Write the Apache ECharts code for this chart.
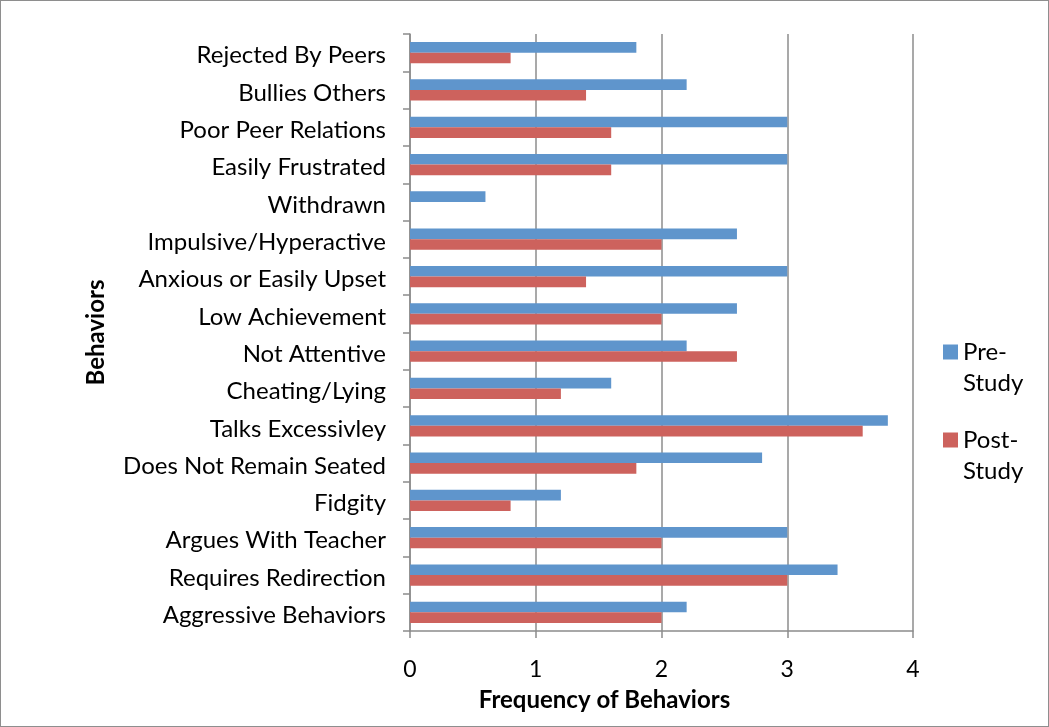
<!DOCTYPE html>
<html>
<head>
<meta charset="utf-8">
<script src="https://cdn.jsdelivr.net/npm/echarts@6/dist/echarts.min.js"></script>
<style>
  html, body { margin: 0; padding: 0; background: #fff; }
  #chart { width: 1047px; height: 725px; border: 1px solid #8e8e8e; }
</style>
</head>
<body>
<div id="chart"></div>
<script>
// Behaviors, listed top to bottom
const categories = [
  'Rejected By Peers', 'Bullies Others', 'Poor Peer Relations', 'Easily Frustrated',
  'Withdrawn', 'Impulsive/Hyperactive', 'Anxious or Easily Upset', 'Low Achievement',
  'Not Attentive', 'Cheating/Lying', 'Talks Excessivley', 'Does Not Remain Seated',
  'Fidgity', 'Argues With Teacher', 'Requires Redirection', 'Aggressive Behaviors'
];
const preStudy  = [1.8, 2.2, 3.0, 3.0, 0.6, 2.6, 3.0, 2.6, 2.2, 1.6, 3.8, 2.8, 1.2, 3.0, 3.4, 2.2];
const postStudy = [0.8, 1.4, 1.6, 1.6, 0.0, 2.0, 1.4, 2.0, 2.6, 1.2, 3.6, 1.8, 0.8, 2.0, 3.0, 2.0];
const seriesNames = ['Pre-Study', 'Post-Study'];
const xTicks = { min: 0, max: 4, interval: 1 };

const FONT = 'Lato, "Open Sans", sans-serif';
const GRID_COLOR = '#8c8c8c';
const LEGEND_LINE = 31;

const chart = echarts.init(document.getElementById('chart'));
chart.setOption({
  animation: false,
  textStyle: { fontFamily: FONT },
  grid: { left: 409, right: 135, top: 33, bottom: 95, containLabel: false },
  legend: {
    orient: 'vertical',
    left: 942,
    top: 308,
    padding: 0,
    itemWidth: 15,
    itemHeight: 15,
    itemGap: 2,
    itemTextGap: 5,
    icon: 'rect',
    data: seriesNames,
    // wrap after the hyphen; a leading blank line keeps the first line beside the swatch
    formatter: name => '{t| }\n{t|' + name.replace('-', '-}\n{t|') + '}',
    textStyle: {
      fontFamily: FONT, fontSize: 24, color: '#000',
      rich: { t: { fontFamily: FONT, fontSize: 24, color: '#000', lineHeight: LEGEND_LINE } }
    }
  },
  xAxis: {
    type: 'value',
    min: xTicks.min, max: xTicks.max, interval: xTicks.interval,
    name: 'Frequency of Behaviors',
    nameLocation: 'middle',
    nameGap: 57,
    nameTextStyle: {
      fontFamily: FONT, fontSize: 24, fontWeight: 'bold', color: '#000',
      padding: [0, 114, 0, 0]
    },
    axisLine: { show: true, lineStyle: { color: GRID_COLOR, width: 1.5 } },
    axisTick: { show: true, length: 7, inside: false, lineStyle: { color: GRID_COLOR, width: 1.5 } },
    axisLabel: { fontFamily: FONT, fontSize: 23, color: '#000', margin: 27 },
    splitLine: { show: true, lineStyle: { color: GRID_COLOR, width: 1.5 } }
  },
  yAxis: {
    type: 'category',
    inverse: true,
    data: categories,
    name: 'Behaviors',
    nameLocation: 'middle',
    nameGap: 302,
    nameRotate: 90,
    nameTextStyle: { fontFamily: FONT, fontSize: 24, fontWeight: 'bold', color: '#000' },
    axisLine: { show: true, lineStyle: { color: GRID_COLOR, width: 1.5 } },
    axisTick: { show: true, length: 7, alignWithLabel: false, lineStyle: { color: GRID_COLOR, width: 1.5 } },
    axisLabel: {
      fontFamily: FONT, fontSize: 24, color: '#000', margin: 24, interval: 0,
      formatter: v => '{c|' + v + '}',
      rich: { c: { fontFamily: FONT, fontSize: 24, color: '#000', padding: [6, 0, 0, 0] } }
    },
    splitLine: { show: false }
  },
  series: [
    {
      name: seriesNames[0], type: 'bar', data: preStudy,
      itemStyle: { color: '#5f95cc' },
      barGap: '0%', barCategoryGap: '43%'
    },
    {
      name: seriesNames[1], type: 'bar', data: postStudy,
      itemStyle: { color: '#cd625d' },
      barGap: '0%', barCategoryGap: '43%'
    }
  ]
});
</script>
</body>
</html>
